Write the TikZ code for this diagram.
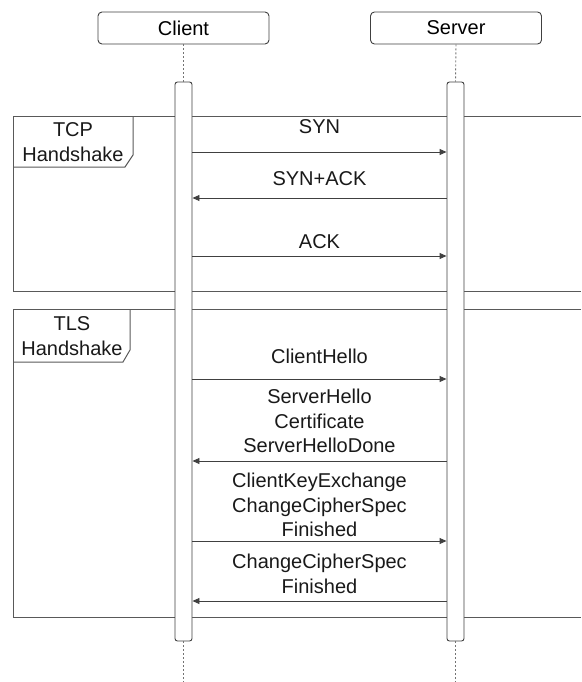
\documentclass[tikz,border=0pt]{standalone}
\usepackage{fontspec}
\setmainfont{Liberation Sans}
\usetikzlibrary{arrows.meta}
\tikzset{
  actor/.style={draw=black!75, line width=0.9pt, rounded corners=4pt, fill=white,
    minimum width=171pt, minimum height=32pt, inner sep=0pt},
  actbar/.style={draw=black!75, line width=0.9pt, rounded corners=2.5pt, fill=white,
    minimum width=17pt, minimum height=559pt, inner sep=0pt},
  life/.style={draw=black!55, line width=0.9pt, dash pattern=on 2pt off 2pt},
  frameline/.style={draw=black!65, line width=1pt},
  msg/.style={draw=black!75, line width=0.9pt, -{Triangle[length=7pt,width=6pt]}},
  lbl/.style={align=center, inner sep=0pt, text=black!90}
}
\begin{document}
\begin{tikzpicture}[x=1pt,y=-1pt, font=\fontsize{20}{24.5}\selectfont]
\useasboundingbox (0,0) rectangle (581,682);
% frames
\draw[frameline] (581,117) -- (13,117) -- (13,291) -- (581,291);
\draw[frameline] (133,117) -- (133,155) -- (125,167) -- (13,167);
\node[lbl] (tcplbl) at (73,142) {TCP\\Handshake};
\draw[frameline] (581,309) -- (13,309) -- (13,617) -- (581,617);
\draw[frameline] (130,309) -- (130,350) -- (123,362) -- (13,362);
\node[lbl] (tlslbl) at (72,336) {TLS\\Handshake};
% actors
\node[actor] (client) at (183.5,28) {Client};
\node[actor] (server) at (456,28) {Server};
\coordinate (cend) at (183.5,682);
\coordinate (send) at (455.5,682);
\node[actbar] (cbar) at (183.5,361.5) {};
\node[actbar] (sbar) at (455.5,361.5) {};
\draw[life] (client.south) -- (cbar.north);
\draw[life] (server.south) -- (sbar.north);
\draw[life] (cbar.south) -- (cend);
\draw[life] (sbar.south) -- (send);
% TCP messages
\node[lbl] (syn) at (319.5,127) {SYN};
\draw[msg] (cbar.east |- 0,152) -- (sbar.west |- 0,152);
\node[lbl] (synack) at (319.5,179) {SYN+ACK};
\draw[msg] (sbar.west |- 0,198) -- (cbar.east |- 0,198);
\node[lbl] (ack) at (319.5,242) {ACK};
\draw[msg] (cbar.east |- 0,256) -- (sbar.west |- 0,256);
% TLS messages
\node[lbl] (chello) at (319.5,356) {ClientHello};
\draw[msg] (cbar.east |- 0,379) -- (sbar.west |- 0,379);
\node[lbl] (shello) at (319.5,421) {ServerHello\\Certificate\\ServerHelloDone};
\draw[msg] (sbar.west |- 0,461) -- (cbar.east |- 0,461);
\node[lbl] (ckex) at (319.5,505) {ClientKeyExchange\\ChangeCipherSpec\\Finished};
\draw[msg] (cbar.east |- 0,541) -- (sbar.west |- 0,541);
\node[lbl] (ccs) at (319.5,574) {ChangeCipherSpec\\Finished};
\draw[msg] (sbar.west |- 0,601) -- (cbar.east |- 0,601);
\end{tikzpicture}
\end{document}
